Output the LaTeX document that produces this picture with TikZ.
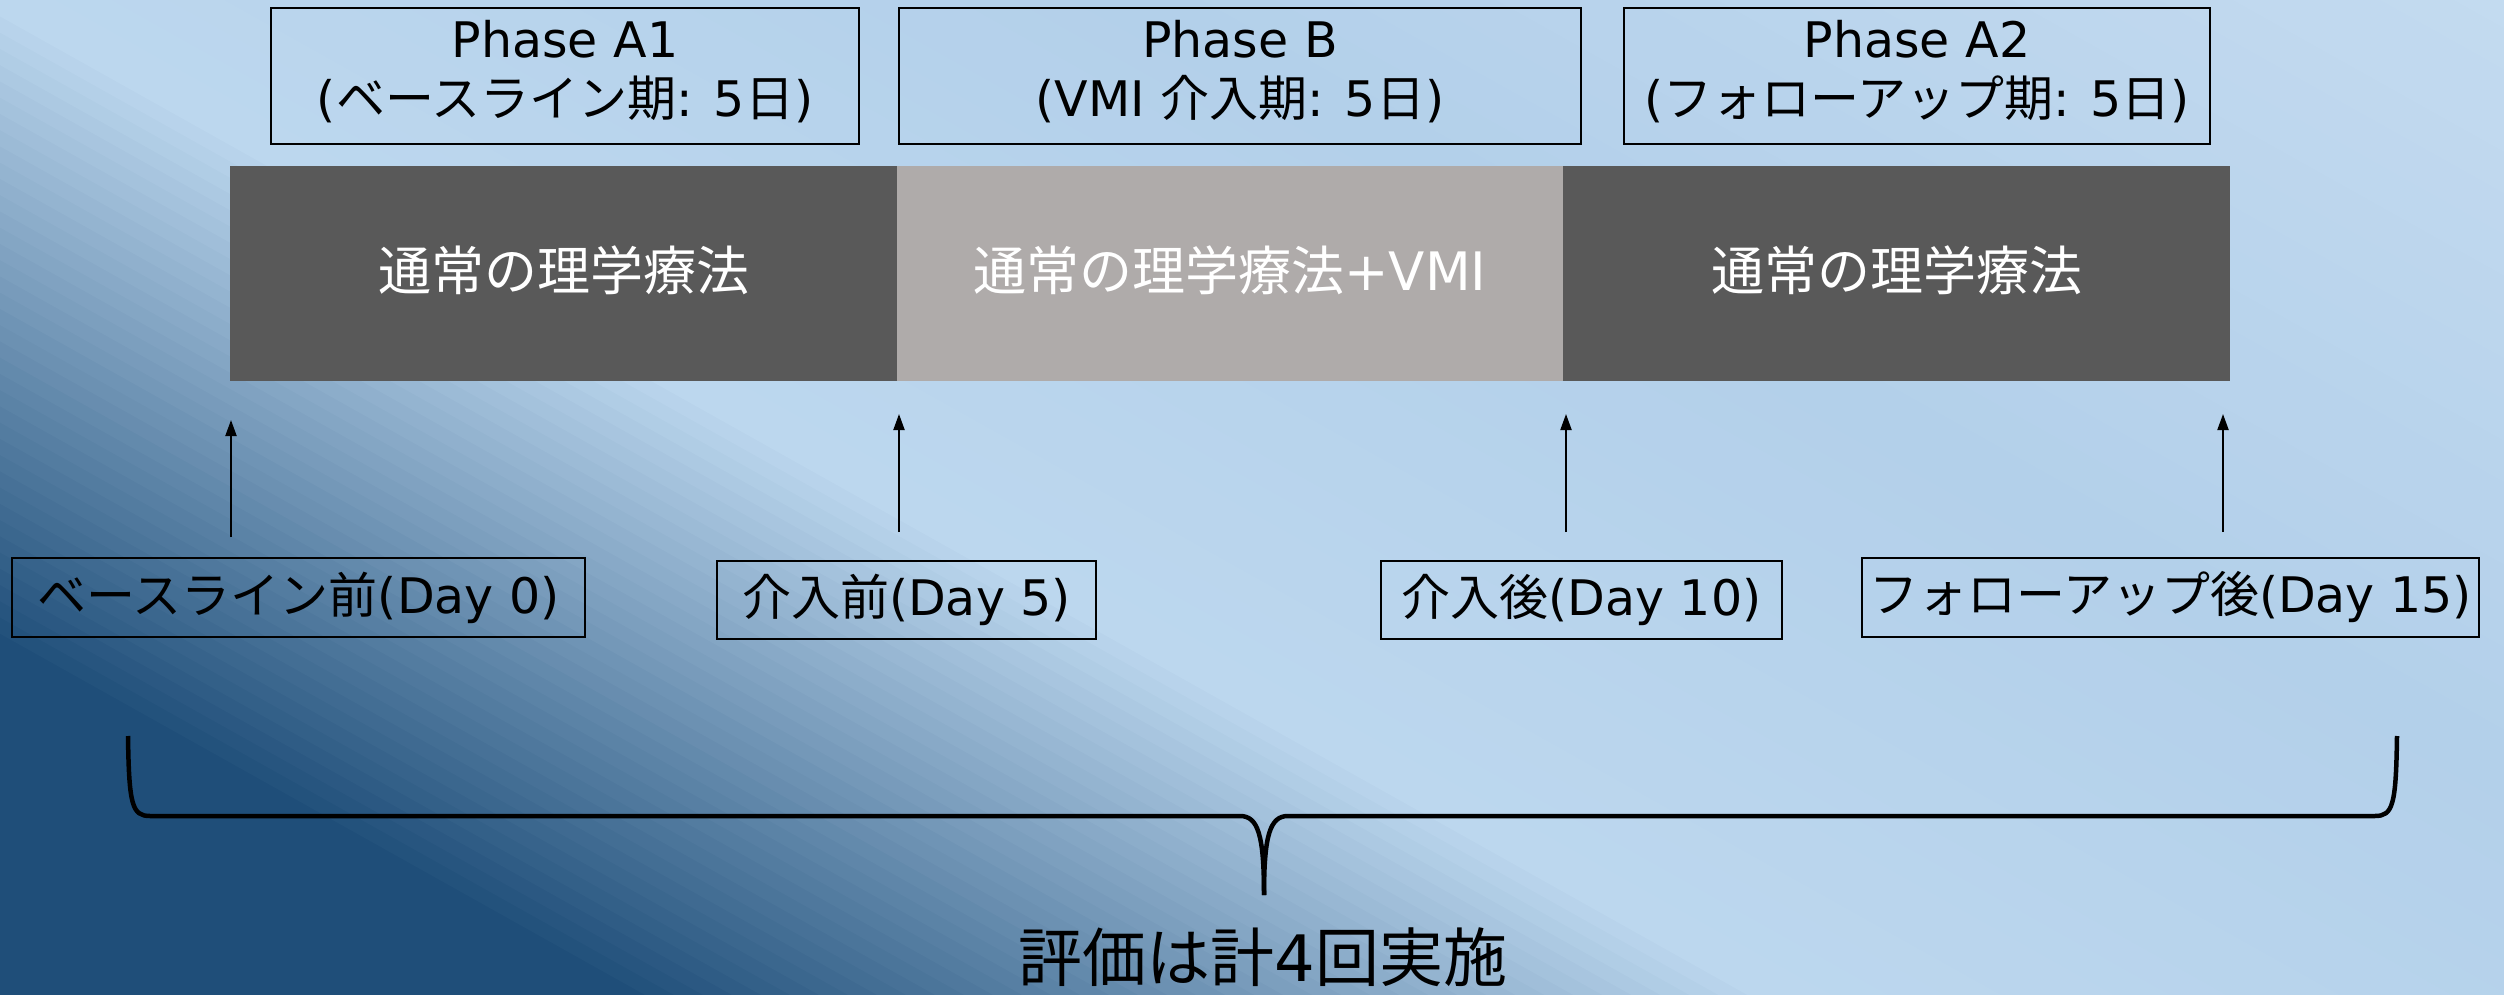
\documentclass[tikz,border=0pt]{standalone}
\usepackage{fontspec}
\setmainfont{DejaVu Sans}
\newfontfamily\jpf{Noto Sans CJK JP}
\newcommand{\J}[1]{{\jpf #1}}
\usetikzlibrary{arrows.meta}
\definecolor{bgDark}{HTML}{1F4E79}
\definecolor{bgLight}{HTML}{BCD7EE}
\definecolor{bgMid}{HTML}{B3D0EA}
\definecolor{bgTop}{HTML}{C4DBF0}
\definecolor{barDark}{HTML}{595959}
\definecolor{barLight}{HTML}{AFABAA}
\begin{document}
\begin{tikzpicture}[x=1pt,y=-1pt,
  phasebox/.style={draw=black, line width=1.8pt, inner sep=0pt, minimum height=136pt},
  phasetext/.style={inner sep=0pt, align=center, font=\fontsize{49}{59}\selectfont},
  barseg/.style={inner sep=0pt, minimum height=215pt, minimum width=667pt, text=white, font=\fontsize{53}{60}\selectfont},
  evalbox/.style={draw=black, line width=1.8pt, inner sep=0pt, font=\fontsize{49}{56}\selectfont},
  upArrow/.style={line width=2pt, -{Triangle[length=16pt,width=11pt]}},
  braceline/.style={line width=4.5pt, line join=round}]
\useasboundingbox (0,0) rectangle (2504,995);
% background gradient
\begin{scope}
\clip (0,0) rectangle (2504,995);
\begin{scope}[x=1pt,y=1pt,shift={(0,-995)},rotate=-29.25]
\fill[bgDark] (-800,-300) rectangle (2500,2400);
\foreach \i in {0,...,39}{
  \pgfmathsetmacro\vA{301+\i*14.175}
  \pgfmathsetmacro\vB{\vA+16}
  \pgfmathsetmacro\p{100*\i/39}
  \fill[bgLight!\p!bgDark] (-800,\vA) rectangle (2500,\vB);
}
\foreach \i in {0,...,19}{
  \pgfmathsetmacro\vA{868+\i*27.55}
  \pgfmathsetmacro\vB{\vA+29}
  \pgfmathsetmacro\p{100*\i/19}
  \fill[bgMid!\p!bgLight] (-800,\vA) rectangle (2500,\vB);
}
\foreach \i in {0,...,19}{
  \pgfmathsetmacro\vA{1419+\i*36}
  \pgfmathsetmacro\vB{\i==19 ? 2500 : \vA+38}
  \pgfmathsetmacro\p{100*\i/19}
  \fill[bgTop!\p!bgMid] (-800,\vA) rectangle (2500,\vB);
}
\end{scope}
\end{scope}

% phase boxes
\node[phasebox, minimum width=588pt] (pA1) at (565,76) {};
\node[phasebox, minimum width=682pt] (pB) at (1240,76) {};
\node[phasebox, minimum width=586pt] (pA2) at (1917,76) {};
\node[phasetext] (pA1t) at (565,72) {Phase A1\\(\J{ベースライン期}: 5\J{日})};
\node[phasetext] (pBt) at (1240,72) {Phase B\\(VMI \J{介入期}: 5\J{日})};
\node[phasetext] (pA2t) at (1917,72) {Phase A2\\(\J{フォローアップ期}: 5\J{日})};

% bar
\node[barseg, fill=barDark] (bar1) at (563.5,273.5) {\raisebox{10pt}{\J{通常の理学療法}}};
\node[barseg, fill=barLight] (bar2) at (1230,273.5) {\raisebox{10pt}{\J{通常の理学療法}+VMI}};
\node[barseg, fill=barDark] (bar3) at (1896.5,273.5) {\raisebox{10pt}{\J{通常の理学療法}}};

% evaluation boxes
\node[evalbox, minimum width=573pt, minimum height=79pt] (e1) at (298.5,597.5) {\J{ベースライン前}(Day 0)};
\node[evalbox, minimum width=379pt, minimum height=78pt] (e2) at (906.5,600) {\J{介入前}(Day 5)};
\node[evalbox, minimum width=401pt, minimum height=78pt] (e3) at (1581.5,600) {\J{介入後}(Day 10)};
\node[evalbox, minimum width=617pt, minimum height=79pt] (e4) at (2170.5,597.5) {\J{フォローアップ後}(Day 15)};

% arrows
\coordinate (a1s) at (231,537); \coordinate (a1e) at (231,420);
\coordinate (a2s) at (899,532); \coordinate (a2e) at (899,414);
\coordinate (a3s) at (1566,532); \coordinate (a3e) at (1566,414);
\coordinate (a4s) at (2223,532); \coordinate (a4e) at (2223,414);
\draw[upArrow] (a1s) -- (a1e);
\draw[upArrow] (a2s) -- (a2e);
\draw[upArrow] (a3s) -- (a3e);
\draw[upArrow] (a4s) -- (a4e);

% brace
\coordinate (bl) at (128,736);
\coordinate (br) at (2397,736);
\coordinate (bt) at (1264,895);
\draw[braceline] (bl) .. controls (129,805) and (132,816) .. (150,816) -- (1240,816) .. controls (1258,816) and (1264,835) .. (bt);
\draw[braceline] (br) .. controls (2396,805) and (2393,816) .. (2375,816) -- (1288,816) .. controls (1270,816) and (1264,835) .. (bt);

% bottom text
\node[inner sep=0pt, font=\fontsize{64}{70}\selectfont] (evaltxt) at (1263,957) {\J{評価は計}4\J{回実施}};
\end{tikzpicture}
\end{document}
